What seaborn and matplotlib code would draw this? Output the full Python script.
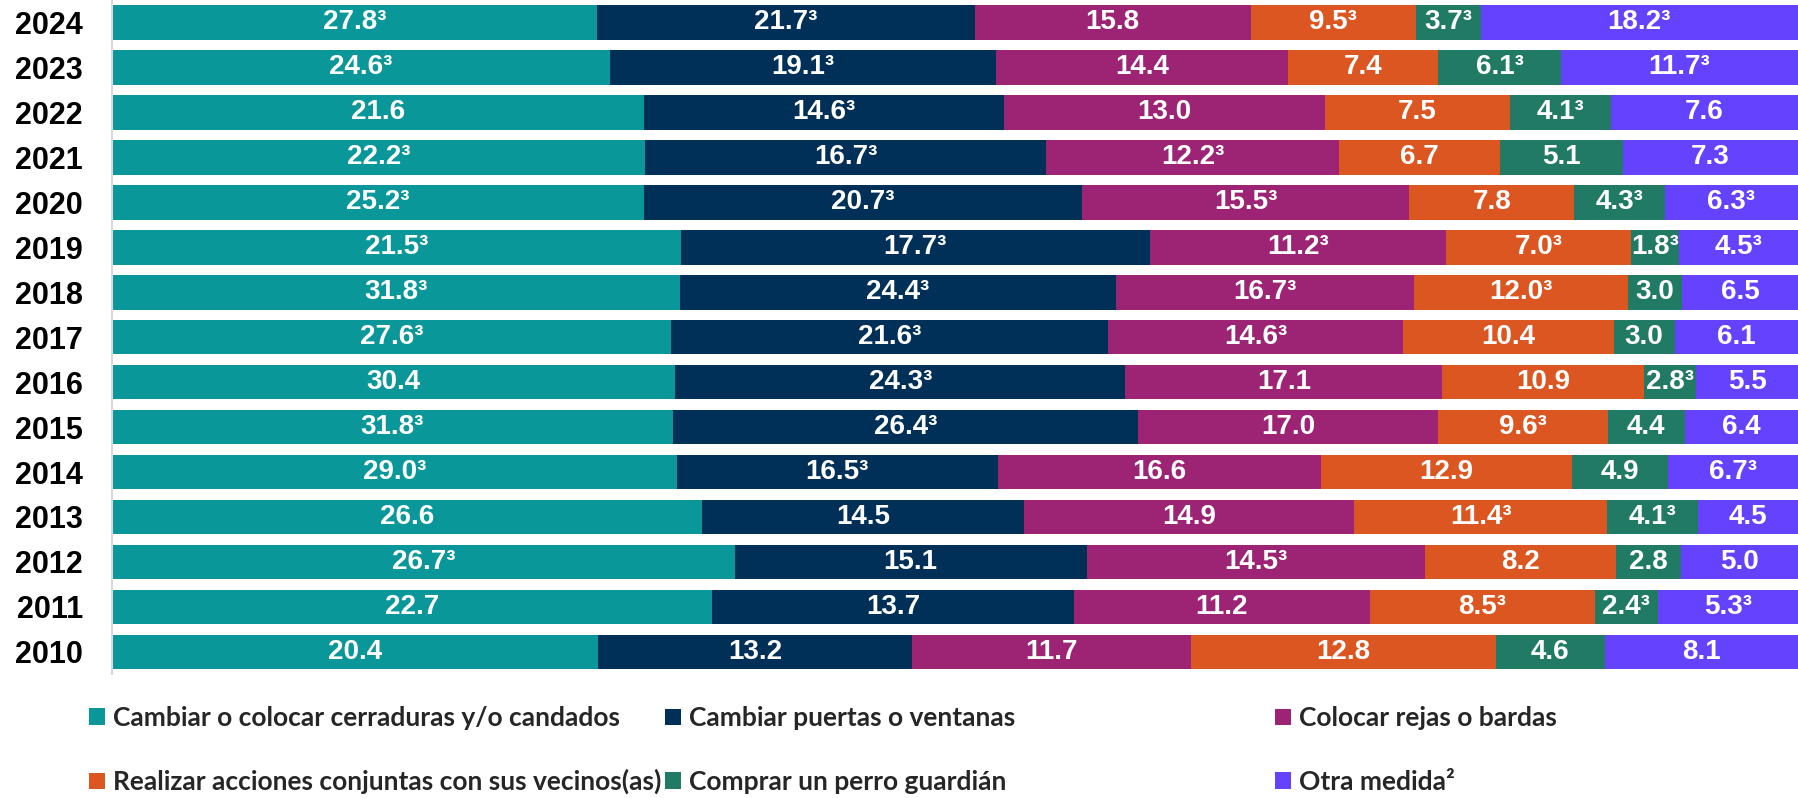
import matplotlib
matplotlib.use("Agg")
import matplotlib.pyplot as plt
import seaborn as sns
import numpy as np
import pandas as pd
from matplotlib.patches import Patch

years = ["2024", "2023", "2022", "2021", "2020", "2019", "2018", "2017",
         "2016", "2015", "2014", "2013", "2012", "2011", "2010"]

series_names = [
    "Cambiar o colocar cerraduras y/o candados",
    "Cambiar puertas o ventanas",
    "Colocar rejas o bardas",
    "Realizar acciones conjuntas con sus vecinos(as)",
    "Comprar un perro guardián",
    "Otra medida²",
]

cerraduras = [27.8, 24.6, 21.6, 22.2, 25.2, 21.5, 31.8, 27.6, 30.4, 31.8, 29.0, 26.6, 26.7, 22.7, 20.4]
cerraduras_sup = [1, 1, 0, 1, 1, 1, 1, 1, 0, 1, 1, 0, 1, 0, 0]
puertas = [21.7, 19.1, 14.6, 16.7, 20.7, 17.7, 24.4, 21.6, 24.3, 26.4, 16.5, 14.5, 15.1, 13.7, 13.2]
puertas_sup = [1, 1, 1, 1, 1, 1, 1, 1, 1, 1, 1, 0, 0, 0, 0]
rejas = [15.8, 14.4, 13.0, 12.2, 15.5, 11.2, 16.7, 14.6, 17.1, 17.0, 16.6, 14.9, 14.5, 11.2, 11.7]
rejas_sup = [0, 0, 0, 1, 1, 1, 1, 1, 0, 0, 0, 0, 1, 0, 0]
vecinos = [9.5, 7.4, 7.5, 6.7, 7.8, 7.0, 12.0, 10.4, 10.9, 9.6, 12.9, 11.4, 8.2, 8.5, 12.8]
vecinos_sup = [1, 0, 0, 0, 0, 1, 1, 0, 0, 1, 0, 1, 0, 1, 0]
perro = [3.7, 6.1, 4.1, 5.1, 4.3, 1.8, 3.0, 3.0, 2.8, 4.4, 4.9, 4.1, 2.8, 2.4, 4.6]
perro_sup = [1, 1, 1, 0, 1, 1, 0, 0, 1, 0, 0, 1, 0, 1, 0]
otra = [18.2, 11.7, 7.6, 7.3, 6.3, 4.5, 6.5, 6.1, 5.5, 6.4, 6.7, 4.5, 5.0, 5.3, 8.1]
otra_sup = [1, 1, 0, 0, 1, 1, 0, 0, 0, 0, 1, 0, 0, 1, 0]

colors = ["#0A979A", "#002F57", "#9D2474", "#DB5621", "#207A64", "#6542FD"]

sns.set_theme(style="white")
plt.rcParams['font.family'] = ['Liberation Sans', 'DejaVu Sans']

values = np.array([cerraduras, puertas, rejas, vecinos, perro, otra], dtype=float)
sups = np.array([cerraduras_sup, puertas_sup, rejas_sup, vecinos_sup, perro_sup, otra_sup])
totals = values.sum(axis=0)
pct = values / totals * 100
cum = np.cumsum(pct, axis=0)

fig = plt.figure(figsize=(17.98, 7.98), dpi=100)
ax = fig.add_axes([112 / 1798, 0.155, 1 - 112 / 1798, 0.845])

for i in reversed(range(len(series_names))):
    df = pd.DataFrame({"year": years, "right": cum[i]})
    sns.barplot(data=df, x="right", y="year", order=years, orient="h",
                color=colors[i], width=0.77, saturation=1, errorbar=None,
                edgecolor="none", linewidth=0, ax=ax)

for i in range(len(series_names)):
    for j in range(len(years)):
        xc = cum[i][j] - pct[i][j] / 2
        label = f"{values[i][j]:.1f}" + ("³" if sups[i][j] else "")
        ax.text(xc, j, label, ha="center", va="center", color="white",
                fontsize=20, fontweight="bold")

ax.set_xlim(0, 100)
ax.set_ylim(len(years) - 0.5, -0.5)
ax.set_xticks([])
ax.set_xlabel("")
ax.set_ylabel("")
ax.tick_params(axis="y", length=0, pad=21)
for lab in ax.get_yticklabels():
    lab.set_fontsize(22)
    lab.set_fontweight("bold")
    lab.set_color("black")
for s in ["top", "right", "bottom"]:
    ax.spines[s].set_visible(False)
ax.spines["left"].set_color("#D9D9D9")
ax.spines["left"].set_linewidth(1.5)

handles = [Patch(facecolor=c, edgecolor="none") for c in colors]
col_x = [89, 665, 1275]
for k in range(3):
    idx = [k, k + 3]
    leg = fig.legend([handles[t] for t in idx], [series_names[t] for t in idx],
                     loc="center left", bbox_to_anchor=(col_x[k] / 1798, 1 - 750 / 798),
                     frameon=False, borderpad=0, borderaxespad=0,
                     handlelength=0.6, handleheight=0.6, handletextpad=0.3,
                     labelspacing=1.5,
                     prop=dict(family="Lato", weight="bold", size=19))

fig.savefig("out.png", dpi=100)
